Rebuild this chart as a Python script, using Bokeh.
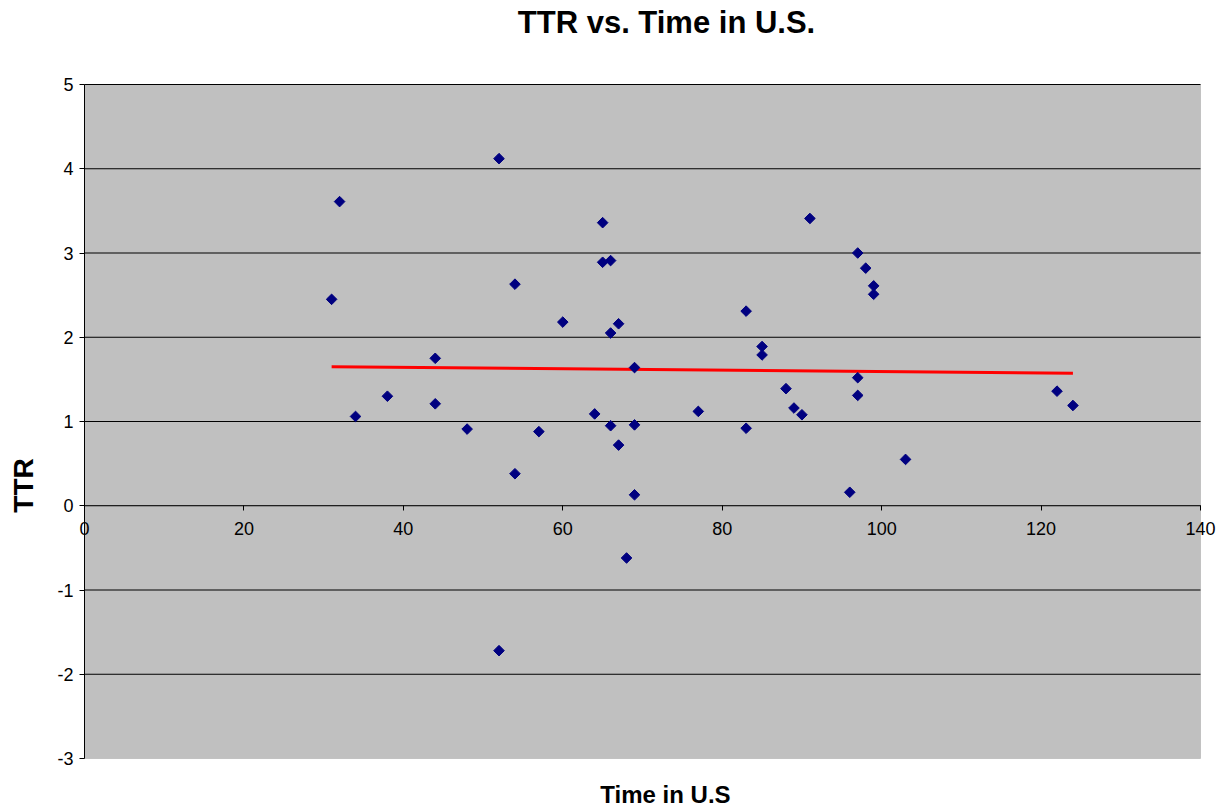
import numpy as np
from bokeh.plotting import figure
from bokeh.models import (LinearAxis, FixedTicker, Range1d, ColumnDataSource,
                          Label, BoxAnnotation)
from bokeh.embed import file_html
from bokeh.resources import INLINE

time_us = [31, 32, 34, 38, 44, 44, 48, 52, 52, 54, 54, 57, 60, 64, 65, 65, 66, 66, 66,
           67, 67, 68, 69, 69, 69, 77, 83, 83, 85, 85, 88, 89, 90, 91, 96, 97, 97, 97,
           98, 99, 99, 103, 122, 124]
ttr = [2.45, 3.61, 1.06, 1.30, 1.75, 1.21, 0.91, 4.12, -1.72, 2.63, 0.38, 0.88, 2.18,
       1.09, 3.36, 2.89, 2.91, 2.05, 0.95, 2.16, 0.72, -0.62, 1.64, 0.96, 0.13, 1.12,
       2.31, 0.92, 1.89, 1.79, 1.39, 1.16, 1.08, 3.41, 0.16, 3.00, 1.52, 1.31, 2.82,
       2.61, 2.51, 0.55, 1.36, 1.19]
x_ticks = [0, 20, 40, 60, 80, 100, 120, 140]
y_ticks = [-3, -2, -1, 0, 1, 2, 3, 4, 5]
x_min, x_max = 0, 140
y_min, y_max = -3, 5
x_cross = 0  # TTR value where the horizontal axis crosses

FONT = "Liberation Sans"

# canvas and plot-area geometry (pixels)
W, H = 1222, 810
PX_L, PX_R, PX_T, PX_B = 84, 1200, 84, 758
sx = (x_max - x_min) / (PX_R - PX_L)
sy = (y_max - y_min) / (PX_B - PX_T)


def dx(px):
    return x_min + (px - PX_L) * sx


def dy(py):
    return y_max - (py - PX_T) * sy


p = figure(width=W, height=H, output_backend="svg", toolbar_location=None,
           x_range=Range1d(dx(0), dx(W)), y_range=Range1d(dy(H), dy(0)),
           x_axis_location=None, y_axis_location=None,
           min_border_left=0, min_border_right=0, min_border_top=0, min_border_bottom=0)
p.background_fill_color = "white"
p.border_fill_color = "white"
p.outline_line_color = None
p.xgrid.grid_line_color = None
p.ygrid.grid_line_color = None

# plot area
p.add_layout(BoxAnnotation(left=x_min, right=x_max, bottom=y_min, top=y_max,
                           fill_color="#C0C0C0", fill_alpha=1.0,
                           line_color="#808080", line_width=1, level="underlay"))

# horizontal gridlines
grid_y = [t for t in y_ticks if t > y_min]
p.segment(x0=[x_min] * len(grid_y), x1=[x_max] * len(grid_y), y0=grid_y, y1=grid_y,
          line_color="black", line_width=1)

# y axis
yax = LinearAxis(ticker=FixedTicker(ticks=y_ticks), fixed_location=x_min,
                 bounds=(y_min, y_max))
yax.axis_line_color = "black"
yax.major_tick_line_color = "black"
yax.major_tick_out = 5
yax.major_tick_in = 0
yax.minor_tick_line_color = None
yax.major_label_standoff = 6
yax.major_label_text_font = FONT
yax.major_label_text_font_size = "18px"
yax.major_label_text_color = "black"
yax.major_label_overrides = {t: str(t) for t in y_ticks}
p.add_layout(yax, "left")

# x axis crossing at y = 0
xax = LinearAxis(ticker=FixedTicker(ticks=x_ticks), fixed_location=x_cross,
                 bounds=(x_min, x_max))
xax.axis_line_color = "#202020"
xax.major_tick_line_color = "black"
xax.major_tick_out = 5
xax.major_tick_in = 0
xax.minor_tick_line_color = None
xax.major_label_standoff = 11
xax.major_label_text_font = FONT
xax.major_label_text_font_size = "18px"
xax.major_label_text_color = "black"
p.add_layout(xax, "below")

# trendline (least squares)
slope, intercept = np.polyfit(time_us, ttr, 1)
tx = [min(time_us), max(time_us)]
ty = [slope * v + intercept for v in tx]
p.line(tx, ty, line_color="#FF0000", line_width=3)

# data points
src = ColumnDataSource(dict(x=time_us, y=ttr))
p.scatter("x", "y", source=src, marker="square", size=7.5, angle=np.pi / 4,
          fill_color="#000080", line_color="#000080")

# titles
p.add_layout(Label(x=dx(666), y=dy(22), text="TTR vs. Time in U.S.",
                   text_align="center", text_baseline="middle",
                   text_font=FONT, text_font_size="31px", text_font_style="bold",
                   text_color="black"))
p.add_layout(Label(x=dx(665), y=dy(794), text="Time in U.S",
                   text_align="center", text_baseline="middle",
                   text_font=FONT, text_font_size="24px", text_font_style="bold",
                   text_color="black"))
p.add_layout(Label(x=dx(23), y=dy(485), text="TTR", angle=np.pi / 2,
                   text_align="center", text_baseline="middle",
                   text_font=FONT, text_font_size="28px", text_font_style="bold",
                   text_color="black"))

open("out.html", "w").write(file_html(p, INLINE))
